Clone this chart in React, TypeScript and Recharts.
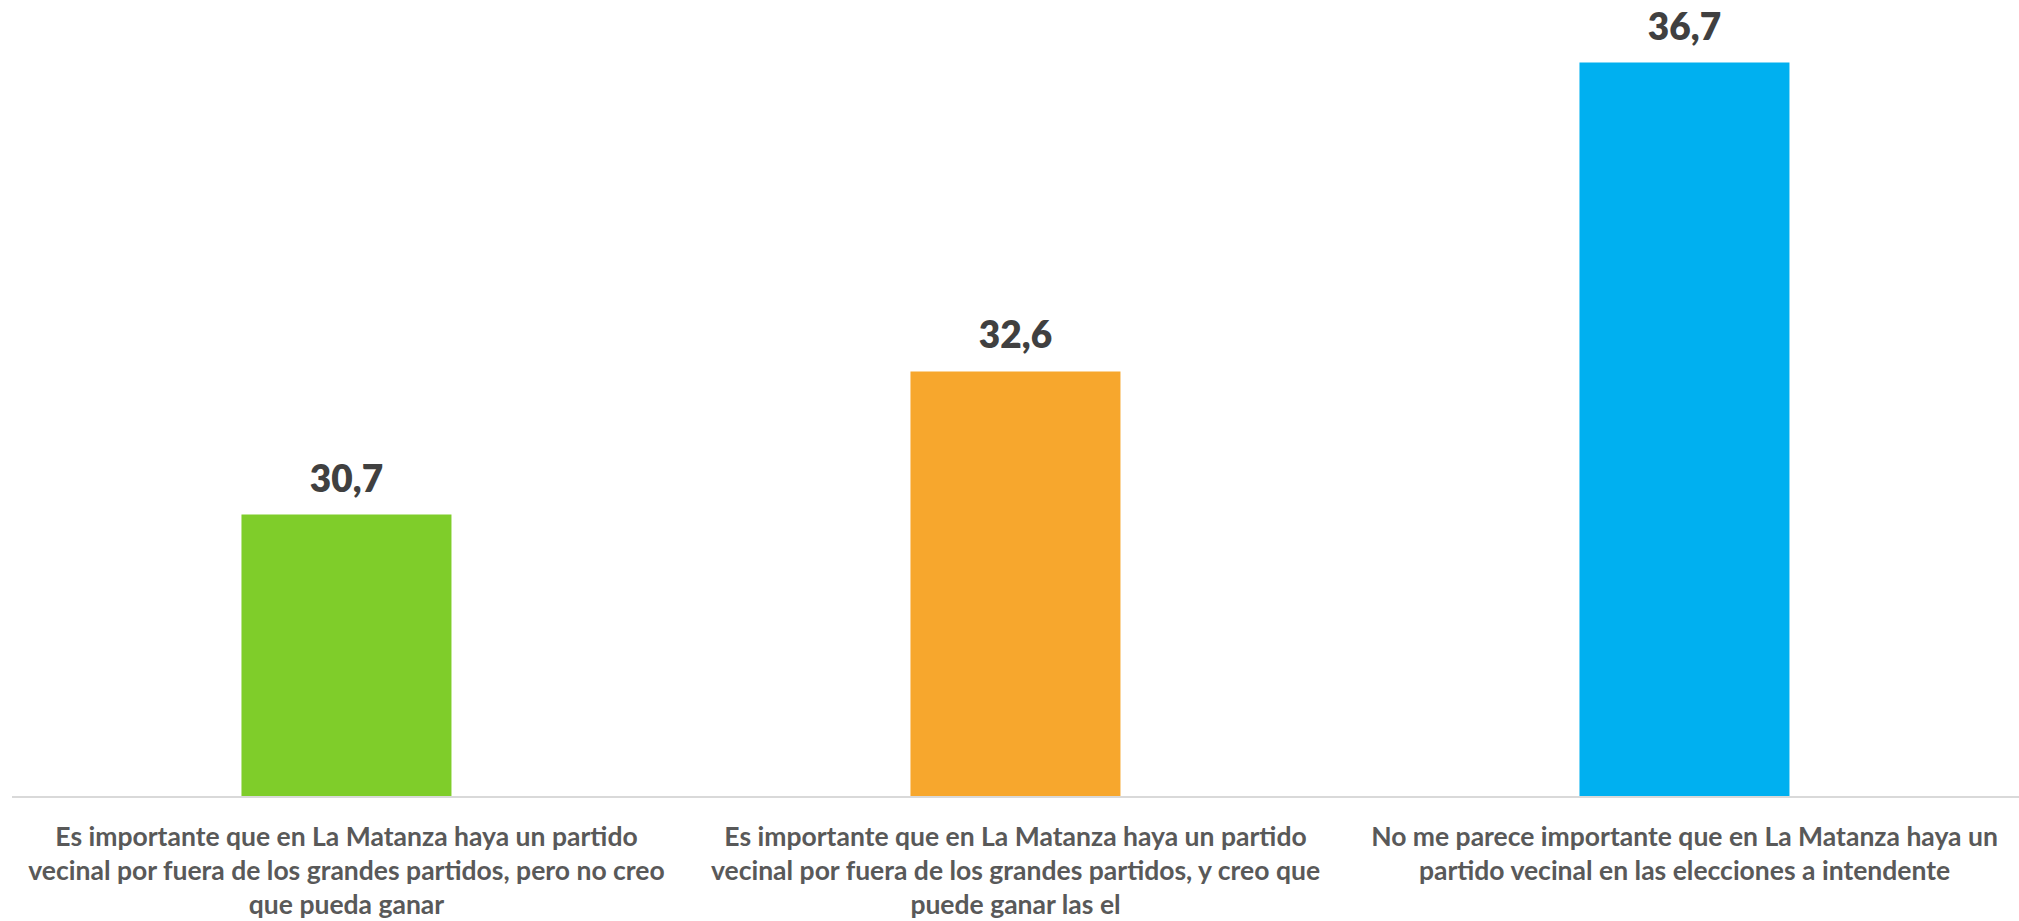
import React from 'react';
import { BarChart, Bar, XAxis, YAxis, Cell, LabelList } from 'recharts';

const categoryLines = [
  [
    'Es importante que en La Matanza haya un partido',
    'vecinal por fuera de los grandes partidos, pero no creo',
    'que pueda ganar',
  ],
  [
    'Es importante que en La Matanza haya un partido',
    'vecinal por fuera de los grandes partidos, y creo que',
    'puede ganar las el',
  ],
  [
    'No me parece importante que en La Matanza haya un',
    'partido vecinal en las elecciones a intendente',
  ],
];
const categories = categoryLines.map((l) => l.join(' '));
const values = [30.7, 32.6, 36.7];
const colors = ['#7FCD2A', '#F7A72D', '#00B0F0'];

const data = categories.map((name, i) => ({ name, value: values[i] }));

const FONT = 'Lato, "Open Sans", sans-serif';

function WrappedTick(props: any) {
  const { x, y, payload } = props;
  const idx = categories.indexOf(payload.value);
  const lines = categoryLines[idx] || [payload.value];
  return (
    <g transform={`translate(${x},${y})`}>
      <text
        textAnchor="middle"
        fill="#595959"
        fontFamily={FONT}
        fontWeight={700}
        fontSize={26.5}
      >
        {lines.map((line, i) => (
          <tspan key={i} x={0} y={41 + i * 34}>
            {line}
          </tspan>
        ))}
      </text>
    </g>
  );
}

export default function App() {
  return (
    <div style={{ width: 2019, height: 921, overflow: 'hidden' }}>
      <style>{'body { margin: 0; }'}</style>
      <BarChart
        width={2019}
        height={921}
        data={data}
        margin={{ top: 40, right: 0, bottom: 0, left: 12 }}
        barCategoryGap="34.3%"
      >
        <XAxis
          dataKey="name"
          tick={<WrappedTick />}
          tickLine={false}
          axisLine={{ stroke: '#D9D9D9', strokeWidth: 2 }}
          interval={0}
          height={124}
        />
        <YAxis hide domain={[26.95, 37]} allowDataOverflow />
        <Bar dataKey="value" isAnimationActive={false}>
          {data.map((d, i) => (
            <Cell key={d.name} fill={colors[i]} />
          ))}
          <LabelList
            dataKey="value"
            position="top"
            offset={23}
            fill="#404040"
            fontFamily={FONT}
            fontWeight={800}
            fontSize={37}
            formatter={(v: any) => String(v).replace('.', ',')}
          />
        </Bar>
      </BarChart>
    </div>
  );
}
